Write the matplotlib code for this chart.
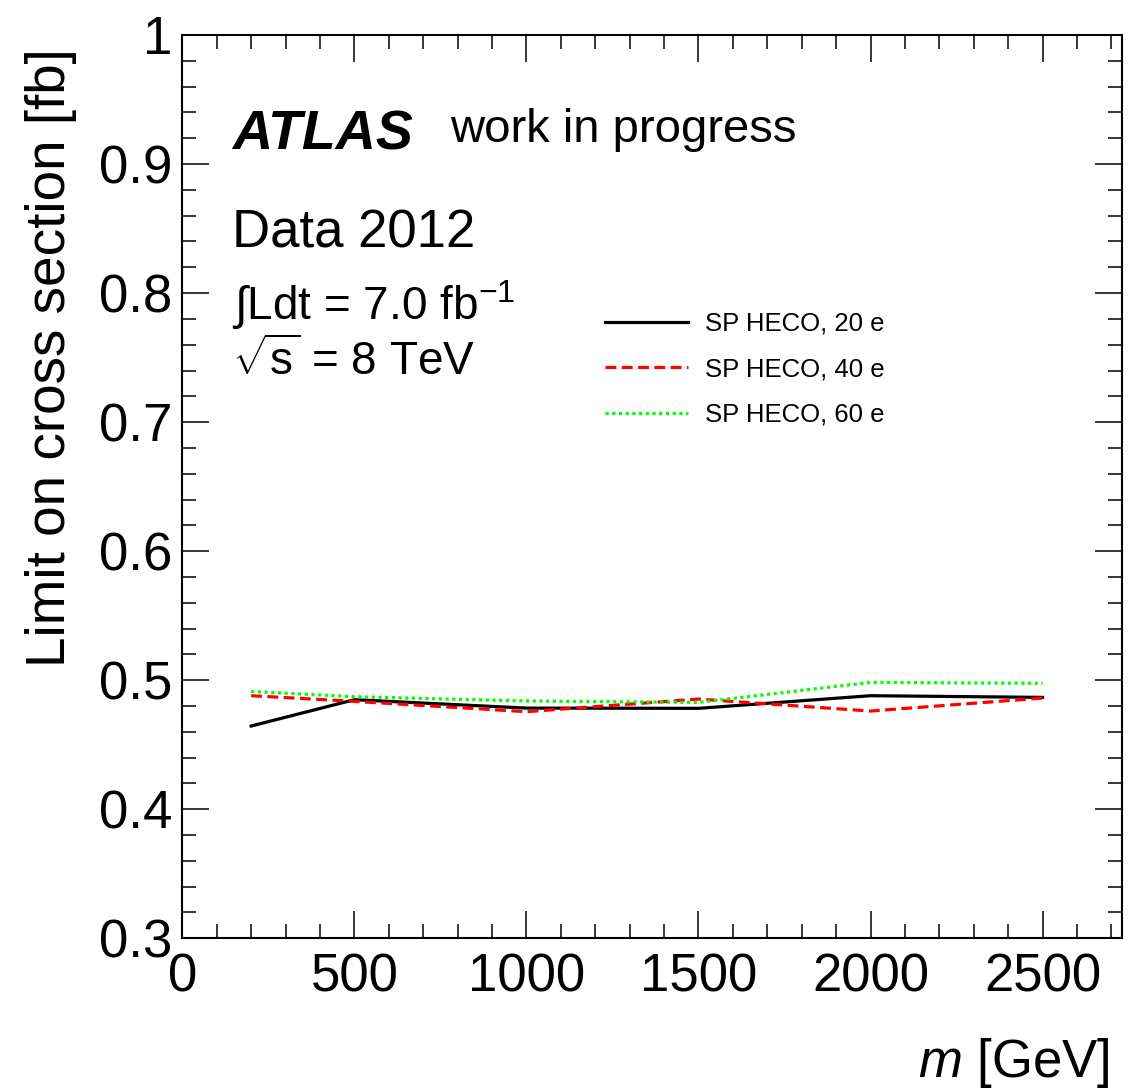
import matplotlib
matplotlib.use("Agg")
import matplotlib.pyplot as plt
from matplotlib.ticker import MultipleLocator, FixedLocator, FixedFormatter

plt.rcParams['font.family'] = ['Liberation Sans', 'DejaVu Sans']
plt.rcParams['mathtext.fontset'] = 'custom'
plt.rcParams['mathtext.rm'] = 'Liberation Sans'
plt.rcParams['mathtext.it'] = 'Liberation Sans:italic'
plt.rcParams['mathtext.bf'] = 'Liberation Sans:bold'

# ---- data ----
mass = [200, 500, 1000, 1500, 2000, 2500]
limit_20e = [0.4645, 0.4849, 0.4784, 0.4782, 0.4880, 0.4867]
limit_40e = [0.4880, 0.4836, 0.4756, 0.4854, 0.4761, 0.4862]
limit_60e = [0.4913, 0.4872, 0.4839, 0.4828, 0.4983, 0.4976]
series_labels = ["SP HECO, 20 e", "SP HECO, 40 e", "SP HECO, 60 e"]
x_ticks = [0, 500, 1000, 1500, 2000, 2500]
x_ticklabels = ["0", "500", "1000", "1500", "2000", "2500"]
y_ticks = [0.3, 0.4, 0.5, 0.6, 0.7, 0.8, 0.9, 1.0]
y_ticklabels = ["0.3", "0.4", "0.5", "0.6", "0.7", "0.8", "0.9", "1"]

W, H = 1141, 1090
fig = plt.figure(figsize=(W / 100, H / 100), dpi=100)
ax = fig.add_axes([182.3 / W, 1 - 938.3 / H, (1121.7 - 182.3) / W, (938.3 - 35) / H])

lw = 2.3
ax.plot(mass, limit_20e, color='black', lw=lw, linestyle='-', label=series_labels[0])
ax.plot(mass, limit_40e, color='#ff0000', lw=lw, linestyle=(0, (3.4, 1.7)), label=series_labels[1])
ax.plot(mass, limit_60e, color='#00ff00', lw=lw, linestyle=(0, (1, 1.1)), label=series_labels[2])

ax.set_xlim(0, 2730)
ax.set_ylim(0.3, 1.0)
ax.xaxis.set_major_locator(FixedLocator(x_ticks))
ax.xaxis.set_major_formatter(FixedFormatter(x_ticklabels))
ax.yaxis.set_major_locator(FixedLocator(y_ticks))
ax.yaxis.set_major_formatter(FixedFormatter(y_ticklabels))
ax.xaxis.set_minor_locator(MultipleLocator(100))
ax.yaxis.set_minor_locator(MultipleLocator(0.02))

ax.tick_params(which='both', direction='in', top=True, right=True, width=1.1, colors='black')
ax.tick_params(which='major', length=19.5, labelsize=38)
ax.tick_params(axis='x', which='major', pad=10)
ax.tick_params(axis='y', which='major', pad=7)
ax.tick_params(which='minor', length=10)
for s in ax.spines.values():
    s.set_linewidth(1.5)

ax.set_ylabel("Limit on cross section [fb]", fontsize=39.5, loc='top')
ax.yaxis.set_label_coords(-0.112, 0.985)
ax.set_xlabel("$m$ [GeV]", fontsize=38, loc='right')
ax.xaxis.set_label_coords(0.9876, -0.108)

ax.text(0.0529, 0.8727, "ATLAS", transform=ax.transAxes, fontsize=40,
        fontweight='bold', fontstyle='italic', va='baseline', ha='left')
ax.text(0.285, 0.8819, "work in progress", transform=ax.transAxes, fontsize=34,
        va='baseline', ha='left')
ax.text(0.0529, 0.7642, "Data 2012", transform=ax.transAxes, fontsize=38,
        va='baseline', ha='left')
ax.text(0.0529, 0.6845, "∫Ldt = 7.0 fb$^{-1}$", transform=ax.transAxes, fontsize=33,
        va='baseline', ha='left')
ax.text(0.0529, 0.6236, r"$\sqrt{\mathrm{s}}$ = 8 TeV", transform=ax.transAxes, fontsize=33,
        va='baseline', ha='left')

leg = ax.legend(loc='upper left', bbox_to_anchor=(0.45, 0.6934), frameon=False,
                fontsize=18.5, handlelength=3.23, handletextpad=0.66,
                labelspacing=0.83, borderpad=0, borderaxespad=0)

fig.savefig("out.png", dpi=100)
